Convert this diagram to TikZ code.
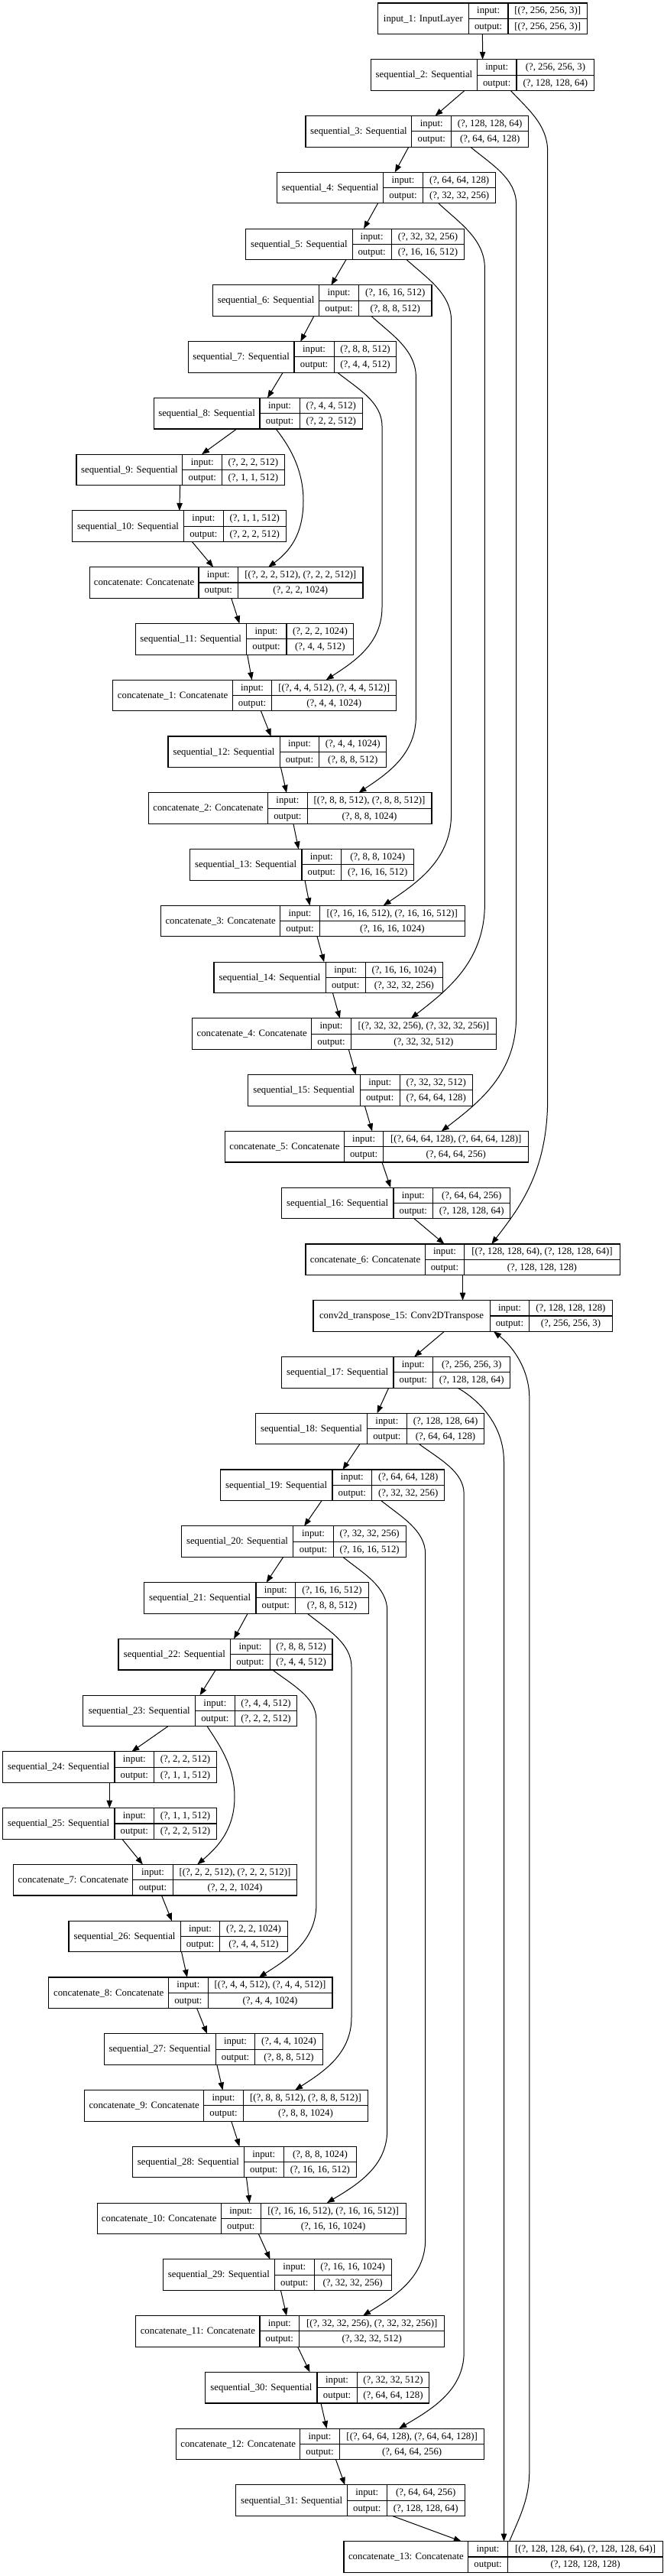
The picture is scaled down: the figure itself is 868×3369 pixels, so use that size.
\documentclass[tikz,border=0pt]{standalone}
\usepackage{fontspec}
\setmainfont{Liberation Serif}
\usetikzlibrary{arrows.meta,calc}
\tikzset{
  box/.style={draw=black, line width=1.1pt, rectangle, inner sep=0pt, outer sep=0pt, minimum height=40.6pt},
  cell/.style={draw=black, line width=1.1pt},
  txt/.style={inner sep=0pt, anchor=base, font=\fontsize{12.8}{14}\selectfont},
  arr/.style={draw=black, line width=1pt, -{Triangle[length=10pt,width=7.5pt]}},
}
\newcommand\layer[9]{%
  \pgfmathsetmacro\lyT{4+73.77*#2}%
  \pgfmathsetmacro\lyB{\lyT+40.6}%
  \pgfmathsetmacro\lyM{\lyT+20.3}%
  \pgfmathsetmacro\lyW{#6-#3}%
  \expandafter\xdef\csname lx@#1\endcsname{#3}%
  \node[box, minimum width=\lyW pt, anchor=north west] (#1) at (#3,\lyT) {};
  \draw[cell] (#4,\lyT) -- (#4,\lyB) (#5,\lyT) -- (#5,\lyB) (#4,\lyM) -- (#6,\lyM);
  \node[txt] (#1-name) at ({(#3+#4)/2},\lyM+3.8) {#7};
  \node[txt] (#1-ik) at ({(#4+#5)/2},\lyT+10.15+3.8) {input:};
  \node[txt] (#1-ok) at ({(#4+#5)/2},\lyM+10.15+3.8) {output:};
  \node[txt] (#1-iv) at ({(#5+#6)/2},\lyT+10.15+3.8) {#8};
  \node[txt] (#1-ov) at ({(#5+#6)/2},\lyM+10.15+3.8) {#9};
}
% src, srcrow, xs, xv, D1, tgt, tgtrow, xe, D2
\newcommand\skiplink[9]{%
  \pgfmathsetmacro\sYs{4+73.77*#2+40.6}%
  \pgfmathsetmacro\sYe{4+73.77*#7}%
  \pgfmathsetmacro\sDxs{#3-\csname lx@#1\endcsname}%
  \pgfmathsetmacro\sDxe{#8-\csname lx@#6\endcsname}%
  \pgfmathsetmacro\sCax{#3+0.45*(#4-#3)}%
  \pgfmathsetmacro\sCay{\sYs+0.3*#5}%
  \pgfmathsetmacro\sCby{\sYs+0.55*#5}%
  \pgfmathsetmacro\sVa{\sYs+#5}%
  \pgfmathsetmacro\sVb{\sYe-#9}%
  \pgfmathsetmacro\sCcy{\sYe-0.5*#9}%
  \pgfmathsetmacro\sCdx{#8+0.5*(#4-#8)}%
  \pgfmathsetmacro\sCdy{\sYe-0.25*#9}%
  \draw[arr] ($(#1.south west)+(\sDxs,0)$) .. controls (\sCax,\sCay) and (#4,\sCby) .. (#4,\sVa) -- (#4,\sVb) .. controls (#4,\sCcy) and (\sCdx,\sCdy) .. ($(#6.north west)+(\sDxe,0)$);
}
\begin{document}
\begin{tikzpicture}[x=1pt,y=-1pt]
\fill[white] (0,0) rectangle (868,3369);
\useasboundingbox (0,0) rectangle (868,3369);
\layer{in1}{0}{494.4}{613.3}{665}{768.3}{input\_1: InputLayer}{[(?, 256, 256, 3)]}{[(?, 256, 256, 3)]}
\layer{s2}{1}{485.6}{624.4}{676}{777.8}{sequential\_2: Sequential}{(?, 256, 256, 3)}{(?, 128, 128, 64)}
\layer{s3}{2}{400}{538.9}{590.6}{691.7}{sequential\_3: Sequential}{(?, 128, 128, 64)}{(?, 64, 64, 128)}
\layer{s4}{3}{362.8}{501.7}{553.3}{648.9}{sequential\_4: Sequential}{(?, 64, 64, 128)}{(?, 32, 32, 256)}
\layer{s5}{4}{321.7}{461.1}{512.2}{607.8}{sequential\_5: Sequential}{(?, 32, 32, 256)}{(?, 16, 16, 512)}
\layer{s6}{5}{278.3}{417.8}{469.4}{565}{sequential\_6: Sequential}{(?, 16, 16, 512)}{(?, 8, 8, 512)}
\layer{s7}{6}{246.1}{385}{437.2}{518.9}{sequential\_7: Sequential}{(?, 8, 8, 512)}{(?, 4, 4, 512)}
\layer{s8}{7}{201.1}{340}{392.2}{474.4}{sequential\_8: Sequential}{(?, 4, 4, 512)}{(?, 2, 2, 512)}
\layer{s9}{8}{100}{238.9}{290.6}{372.2}{sequential\_9: Sequential}{(?, 2, 2, 512)}{(?, 1, 1, 512)}
\layer{s10}{9}{94.4}{240.6}{292.2}{374.4}{sequential\_10: Sequential}{(?, 1, 1, 512)}{(?, 2, 2, 512)}
\layer{c0}{10}{117.2}{260}{311.7}{475}{concatenate: Concatenate}{[(?, 2, 2, 512), (?, 2, 2, 512)]}{(?, 2, 2, 1024)}
\layer{s11}{11}{177.2}{322.2}{375}{462.8}{sequential\_11: Sequential}{(?, 2, 2, 1024)}{(?, 4, 4, 512)}
\layer{c1}{12}{147.8}{304.4}{355.6}{518.9}{concatenate\_1: Concatenate}{[(?, 4, 4, 512), (?, 4, 4, 512)]}{(?, 4, 4, 1024)}
\layer{s12}{13}{220}{366.1}{417.8}{505.6}{sequential\_12: Sequential}{(?, 4, 4, 1024)}{(?, 8, 8, 512)}
\layer{c2}{14}{194.4}{350.6}{402.2}{565}{concatenate\_2: Concatenate}{[(?, 8, 8, 512), (?, 8, 8, 512)]}{(?, 8, 8, 1024)}
\layer{s13}{15}{248.3}{395}{446.7}{541.7}{sequential\_13: Sequential}{(?, 8, 8, 1024)}{(?, 16, 16, 512)}
\layer{c3}{16}{210.6}{366.7}{418.3}{608.3}{concatenate\_3: Concatenate}{[(?, 16, 16, 512), (?, 16, 16, 512)]}{(?, 16, 16, 1024)}
\layer{s14}{17}{280}{426.1}{478.3}{579.4}{sequential\_14: Sequential}{(?, 16, 16, 1024)}{(?, 32, 32, 256)}
\layer{c4}{18}{251.7}{407.8}{459.4}{649.4}{concatenate\_4: Concatenate}{[(?, 32, 32, 256), (?, 32, 32, 256)]}{(?, 32, 32, 512)}
\layer{s15}{19}{324.4}{471.1}{523.3}{618.3}{sequential\_15: Sequential}{(?, 32, 32, 512)}{(?, 64, 64, 128)}
\layer{c5}{20}{294.4}{450.6}{501.7}{691.7}{concatenate\_5: Concatenate}{[(?, 64, 64, 128), (?, 64, 64, 128)]}{(?, 64, 64, 256)}
\layer{s16}{21}{368.3}{515}{566.7}{667.8}{sequential\_16: Sequential}{(?, 64, 64, 256)}{(?, 128, 128, 64)}
\layer{c6}{22}{400}{556.1}{607.8}{811.1}{concatenate\_6: Concatenate}{[(?, 128, 128, 64), (?, 128, 128, 64)]}{(?, 128, 128, 128)}
\layer{conv}{23}{410}{641.1}{692.8}{801.1}{conv2d\_transpose\_15: Conv2DTranspose}{(?, 128, 128, 128)}{(?, 256, 256, 3)}
\layer{s17}{24}{368.3}{515}{566.7}{667.8}{sequential\_17: Sequential}{(?, 256, 256, 3)}{(?, 128, 128, 64)}
\layer{s18}{25}{334.4}{480.6}{532.2}{633.9}{sequential\_18: Sequential}{(?, 128, 128, 64)}{(?, 64, 64, 128)}
\layer{s19}{26}{288.3}{435}{486.7}{581.7}{sequential\_19: Sequential}{(?, 64, 64, 128)}{(?, 32, 32, 256)}
\layer{s20}{27}{237.2}{383.9}{436.1}{531.1}{sequential\_20: Sequential}{(?, 32, 32, 256)}{(?, 16, 16, 512)}
\layer{s21}{28}{188.3}{335}{386.7}{482.2}{sequential\_21: Sequential}{(?, 16, 16, 512)}{(?, 8, 8, 512)}
\layer{s22}{29}{155}{301.7}{353.3}{435}{sequential\_22: Sequential}{(?, 8, 8, 512)}{(?, 4, 4, 512)}
\layer{s23}{30}{108.9}{255.6}{307.2}{388.9}{sequential\_23: Sequential}{(?, 4, 4, 512)}{(?, 2, 2, 512)}
\layer{s24}{31}{3.3}{150}{201.7}{283.3}{sequential\_24: Sequential}{(?, 2, 2, 512)}{(?, 1, 1, 512)}
\layer{s25}{32}{3.3}{150}{201.7}{283.3}{sequential\_25: Sequential}{(?, 1, 1, 512)}{(?, 2, 2, 512)}
\layer{c7}{33}{17.8}{173.9}{226.1}{388.9}{concatenate\_7: Concatenate}{[(?, 2, 2, 512), (?, 2, 2, 512)]}{(?, 2, 2, 1024)}
\layer{s26}{34}{90}{236.1}{287.8}{376.1}{sequential\_26: Sequential}{(?, 2, 2, 1024)}{(?, 4, 4, 512)}
\layer{c8}{35}{63.9}{220.6}{272.2}{435}{concatenate\_8: Concatenate}{[(?, 4, 4, 512), (?, 4, 4, 512)]}{(?, 4, 4, 1024)}
\layer{s27}{36}{136.1}{282.2}{333.9}{422.2}{sequential\_27: Sequential}{(?, 4, 4, 1024)}{(?, 8, 8, 512)}
\layer{c9}{37}{110.6}{266.7}{318.3}{481.7}{concatenate\_9: Concatenate}{[(?, 8, 8, 512), (?, 8, 8, 512)]}{(?, 8, 8, 1024)}
\layer{s28}{38}{173.3}{319.4}{371.1}{466.7}{sequential\_28: Sequential}{(?, 8, 8, 1024)}{(?, 16, 16, 512)}
\layer{c10}{39}{127.2}{289.4}{341.1}{531.1}{concatenate\_10: Concatenate}{[(?, 16, 16, 512), (?, 16, 16, 512)]}{(?, 16, 16, 1024)}
\layer{s29}{40}{213.3}{359.4}{411.1}{512.2}{sequential\_29: Sequential}{(?, 16, 16, 1024)}{(?, 32, 32, 256)}
\layer{c11}{41}{177.8}{340}{391.7}{581.7}{concatenate\_11: Concatenate}{[(?, 32, 32, 256), (?, 32, 32, 256)]}{(?, 32, 32, 512)}
\layer{s30}{42}{268.9}{415}{467.2}{561.7}{sequential\_30: Sequential}{(?, 32, 32, 512)}{(?, 64, 64, 128)}
\layer{c12}{43}{230.6}{392.8}{444.4}{633.9}{concatenate\_12: Concatenate}{[(?, 64, 64, 128), (?, 64, 64, 128)]}{(?, 64, 64, 256)}
\layer{s31}{44}{308.9}{454.4}{506.1}{608.3}{sequential\_31: Sequential}{(?, 64, 64, 256)}{(?, 128, 128, 64)}
\layer{c13}{45}{450}{612.8}{664.4}{867.8}{concatenate\_13: Concatenate}{[(?, 128, 128, 64), (?, 128, 128, 64)]}{(?, 128, 128, 128)}
% main chain
\foreach \a/\b in {in1/s2,s2/s3,s3/s4,s4/s5,s5/s6,s6/s7,s7/s8,s8/s9,s9/s10,s10/c0,c0/s11,s11/c1,c1/s12,s12/c2,c2/s13,s13/c3,c3/s14,s14/c4,c4/s15,s15/c5,c5/s16,s16/c6,c6/conv,conv/s17,s17/s18,s18/s19,s19/s20,s20/s21,s21/s22,s22/s23,s23/s24,s24/s25,s25/c7,c7/s26,s26/c8,c8/s27,s27/c9,c9/s28,s28/c10,c10/s29,s29/c11,c11/s30,s30/c12,c12/s31,s31/c13}
  \draw[arr] (\a) -- (\b);
% skip connections, first U-Net
\skiplink{s2}{1}{668.3}{716.7}{80}{c6}{22}{643.3}{190}
\skiplink{s3}{2}{615.6}{675.6}{75}{c5}{20}{577.8}{150}
\skiplink{s4}{3}{573.9}{634.4}{85}{c4}{18}{537.8}{150}
\skiplink{s5}{4}{532.2}{590.6}{80}{c3}{16}{501.7}{120}
\skiplink{s6}{5}{486}{544.4}{80}{c2}{14}{469.4}{100}
\skiplink{s7}{6}{441.7}{500}{70}{c1}{12}{426.7}{95}
\draw[arr] ($(s8.south west)+(160,0)$) .. controls (380,585) and (397,615) .. (397,655) .. controls (397,700) and (378,722) .. ($(c0.north west)+(233.9,0)$);
% skip connections, second U-Net
\draw[arr] ($(s17.south west)+(230.6,0)$) .. controls (625,1830) and (659.5,1862) .. (659.5,1912) -- ($(c13.north west)+(209.5,0)$);
\skiplink{s18}{25}{548.9}{607.2}{65}{c12}{43}{522.2}{100}
\skiplink{s19}{26}{498.9}{556.7}{70}{c11}{41}{475}{100}
\skiplink{s20}{27}{448.9}{506.7}{70}{c10}{39}{427.8}{95}
\skiplink{s21}{28}{402.2}{460}{70}{c9}{37}{386.1}{95}
\skiplink{s22}{29}{356.7}{413.9}{65}{c8}{35}{338.9}{95}
\draw[arr] ($(s23.south west)+(162.2,0)$) .. controls (287,2282) and (307,2310) .. (307,2350) .. controls (307,2395) and (282,2418) .. ($(c7.north west)+(240.5,0)$);
% shared layer edge back to conv2d_transpose_15
\draw[arr] ($(c13.north west)+(216.7,0)$) .. controls (678.4,3295) and (692.8,3270) .. (692.8,3232) -- (692.8,1828) .. controls (692.8,1790) and (670,1760) .. ($(conv.south west)+(236,0)$);
\end{tikzpicture}
\end{document}
